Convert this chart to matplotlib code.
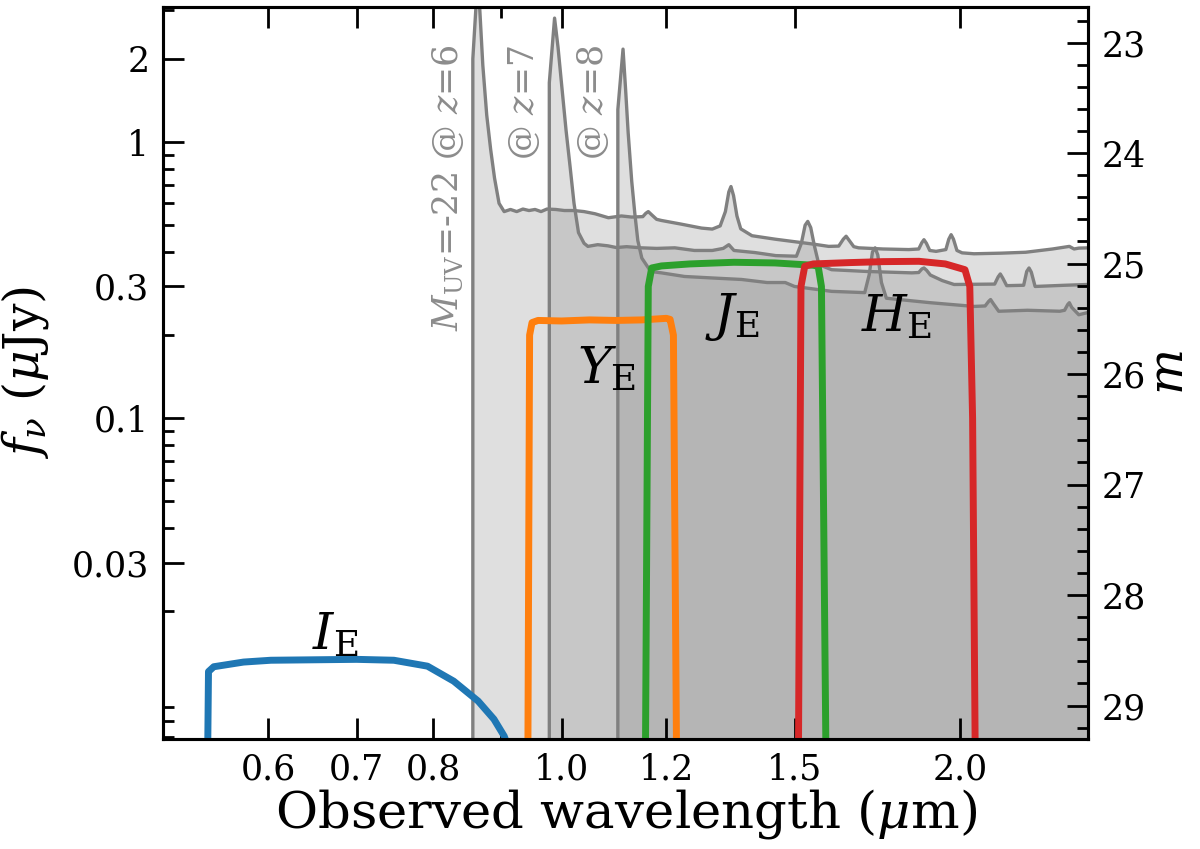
import matplotlib
matplotlib.use("Agg")
import matplotlib.pyplot as plt
from matplotlib.ticker import FixedLocator, FormatStrFormatter, NullFormatter, MultipleLocator
import numpy as np

plt.rcParams['font.family'] = ['DejaVu Serif']
plt.rcParams['mathtext.fontset'] = 'dejavuserif'

# --- model spectra (observed wavelength in um, flux in uJy)
z6_wave = [0.857, 0.857, 0.8645, 0.868, 0.872, 0.878, 0.884, 0.890, 0.897, 0.905, 0.915, 0.925,
           0.935, 0.945, 0.955, 0.965, 0.975, 0.99, 1.005, 1.022, 1.04, 1.06, 1.085, 1.11, 1.13,
           1.152, 1.158, 1.163, 1.170, 1.18, 1.19, 1.23, 1.276, 1.30, 1.318, 1.330, 1.338, 1.343,
           1.349, 1.357, 1.366, 1.393, 1.45, 1.493, 1.55, 1.592, 1.62, 1.633, 1.641, 1.650, 1.663,
           1.677, 1.75, 1.83, 1.862, 1.872, 1.879, 1.887, 1.898, 1.919, 1.952, 1.962, 1.970, 1.978,
           1.99, 2.008, 2.05, 2.15, 2.243, 2.35, 2.42, 2.44, 2.46, 2.55]
z6_flux = [1e-4, 2.0, 4.0, 2.85, 1.9, 1.25, 0.94, 0.74, 0.60, 0.56, 0.57, 0.56,
           0.572, 0.565, 0.57, 0.56, 0.572, 0.57, 0.565, 0.565, 0.56, 0.55, 0.532, 0.54, 0.535,
           0.537, 0.552, 0.56, 0.545, 0.525, 0.52, 0.505, 0.488, 0.484, 0.497, 0.56, 0.66, 0.69,
           0.64, 0.54, 0.485, 0.458, 0.445, 0.437, 0.427, 0.419, 0.42, 0.445, 0.456, 0.44, 0.418,
           0.414, 0.41, 0.408, 0.41, 0.432, 0.443, 0.43, 0.405, 0.402, 0.408, 0.445, 0.462, 0.445,
           0.405, 0.397, 0.394, 0.396, 0.399, 0.41, 0.419, 0.41, 0.413, 0.415]

z7_wave = [0.979, 0.979, 0.988, 0.994, 1.0, 1.008, 1.015, 1.022, 1.030, 1.040, 1.047, 1.065,
           1.084, 1.10, 1.12, 1.149, 1.18, 1.218, 1.26, 1.30, 1.325, 1.338, 1.35, 1.40, 1.452,
           1.505, 1.518, 1.528, 1.535, 1.543, 1.553, 1.565, 1.60, 1.70, 1.84, 1.862, 1.872, 1.879,
           1.888, 1.90, 1.94, 1.98, 2.125, 2.138, 2.146, 2.155, 2.17, 2.235, 2.247, 2.256, 2.265,
           2.28, 2.40, 2.55]
z7_flux = [1e-4, 1.64, 2.81, 2.2, 1.63, 1.1, 0.816, 0.6, 0.47, 0.43, 0.419, 0.425,
           0.421, 0.415, 0.418, 0.414, 0.412, 0.414, 0.405, 0.405, 0.412, 0.425, 0.405, 0.398, 0.388,
           0.386, 0.43, 0.50, 0.516, 0.49, 0.42, 0.36, 0.345, 0.340, 0.336, 0.337, 0.347, 0.35,
           0.343, 0.33, 0.315, 0.305, 0.306, 0.325, 0.333, 0.322, 0.302, 0.303, 0.34, 0.35, 0.338,
           0.30, 0.303, 0.306]

z8_wave = [1.103, 1.103, 1.113, 1.118, 1.123, 1.130, 1.136, 1.142, 1.150, 1.168, 1.19, 1.239,
           1.30, 1.368, 1.43, 1.476, 1.50, 1.60, 1.695, 1.708, 1.718, 1.726, 1.734, 1.745, 1.76,
           1.90, 2.05, 2.09, 2.103, 2.11, 2.12, 2.14, 2.25, 2.38, 2.40, 2.413, 2.42, 2.43, 2.46, 2.55]
z8_flux = [1e-4, 1.31, 2.17, 1.55, 1.08, 0.72, 0.553, 0.44, 0.38, 0.34, 0.336, 0.326,
           0.322, 0.318, 0.31, 0.31, 0.30, 0.288, 0.285, 0.33, 0.40, 0.414, 0.39, 0.31, 0.272,
           0.262, 0.254, 0.255, 0.265, 0.269, 0.26, 0.244, 0.246, 0.244, 0.246, 0.258, 0.262, 0.252,
           0.237, 0.247]

break_wave = [0.857, 0.979, 1.103]
sed_labels = [r'$M_{\rm UV}$=-22 @ $z$=6', r'@ $z$=7', r'@ $z$=8']

# --- Euclid filter curves (arbitrary scaling)
ie_wave = [0.540, 0.541, 0.546, 0.575, 0.603, 0.70, 0.747, 0.792, 0.829, 0.865, 0.889, 0.905, 0.93]
ie_flux = [0.005, 0.0121, 0.0126, 0.0131, 0.0133, 0.0134, 0.0133, 0.01266, 0.01117, 0.00946, 0.00814, 0.00707, 0.005]
ye_wave = [0.943, 0.946, 0.950, 0.96, 1.0, 1.05, 1.10, 1.15, 1.20, 1.208, 1.215, 1.222]
ye_flux = [0.005, 0.20, 0.222, 0.226, 0.225, 0.227, 0.226, 0.227, 0.230, 0.228, 0.20, 0.005]
je_wave = [1.157, 1.163, 1.17, 1.19, 1.25, 1.35, 1.45, 1.55, 1.563, 1.572, 1.585]
je_flux = [0.005, 0.30, 0.35, 0.356, 0.362, 0.367, 0.365, 0.358, 0.355, 0.30, 0.005]
he_wave = [1.510, 1.517, 1.527, 1.55, 1.65, 1.75, 1.863, 1.95, 2.018, 2.035, 2.045, 2.055]
he_flux = [0.005, 0.30, 0.355, 0.362, 0.366, 0.369, 0.37, 0.362, 0.345, 0.30, 0.1, 0.005]

band_names = [r'$I_{\rm E}$', r'$Y_{\rm E}$', r'$J_{\rm E}$', r'$H_{\rm E}$']
band_colors = ['#1f77b4', '#ff7f0e', '#2ca02c', '#d62728']
band_label_x = [0.675, 1.081, 1.345, 1.79]
band_label_y = [0.0163, 0.150, 0.232, 0.232]

xticks = [0.6, 0.7, 0.8, 1.0, 1.2, 1.5, 2.0]
yticks = [0.03, 0.1, 0.3, 1, 2]
yticklabels = ['0.03', '0.1', '0.3', '1', '2']
mticks = [23, 24, 25, 26, 27, 28, 29]

fmin, fmax = 0.0069, 3.09


def fnu_to_mag(f):
    return 23.9 - 2.5 * np.log10(f)


fig = plt.figure(figsize=(12, 8.49), dpi=100)
ax = fig.add_axes([0.136, 0.1296, 0.7707, 0.8625])

for w, f in [(z6_wave, z6_flux), (z7_wave, z7_flux), (z8_wave, z8_flux)]:
    ax.fill_between(w, 1e-4, f, color='gray', alpha=0.25, lw=0)
    ax.plot(w, f, color='#808080', lw=2.4, solid_joinstyle='round')

for bw, lab in zip(break_wave, sed_labels):
    ax.text(bw * 0.988, 2.25, lab, rotation=90, ha='right', va='top',
            fontsize=25, color='#8c8c8c')

for w, f, c in zip([ie_wave, ye_wave, je_wave, he_wave],
                   [ie_flux, ye_flux, je_flux, he_flux], band_colors):
    ax.plot(w, f, color=c, lw=5, solid_joinstyle='round', zorder=5)

for name, x, y in zip(band_names, band_label_x, band_label_y):
    ax.text(x, y, name, fontsize=37, ha='center', va='center', zorder=6)

ax.set_xscale('log')
ax.set_yscale('log')
ax.set_xlim(0.5, 2.5)
ax.set_ylim(fmin, fmax)
ax.xaxis.set_major_locator(FixedLocator(xticks))
ax.xaxis.set_major_formatter(FormatStrFormatter('%.1f'))
ax.xaxis.set_minor_formatter(NullFormatter())
ax.yaxis.set_major_locator(FixedLocator(yticks))
ax.set_yticklabels(yticklabels)
ax.yaxis.set_minor_formatter(NullFormatter())

ax.tick_params(which='both', direction='in', top=True, right=False, labelsize=25, width=2)
ax.tick_params(which='major', length=15, pad=10)
ax.tick_params(which='minor', length=8)
for s in ax.spines.values():
    s.set_linewidth(2.2)

ax.set_xlabel(r'Observed wavelength ($\mu$m)', fontsize=37, labelpad=0)
ax.set_ylabel(r'$f_\nu$ ($\mu$Jy)', fontsize=35, labelpad=15)

ax2 = ax.twinx()
ax2.set_ylim(fnu_to_mag(fmin), fnu_to_mag(fmax))
ax2.yaxis.set_major_locator(FixedLocator(mticks))
ax2.yaxis.set_minor_locator(MultipleLocator(0.2))
ax2.tick_params(which='both', direction='in', labelsize=25, width=2)
ax2.tick_params(which='major', length=15, pad=10)
ax2.tick_params(which='minor', length=8)
ax2.set_ylabel(r'$m$', fontsize=35, labelpad=0)
for s in ax2.spines.values():
    s.set_linewidth(2.2)

fig.savefig('out.png', dpi=100)
